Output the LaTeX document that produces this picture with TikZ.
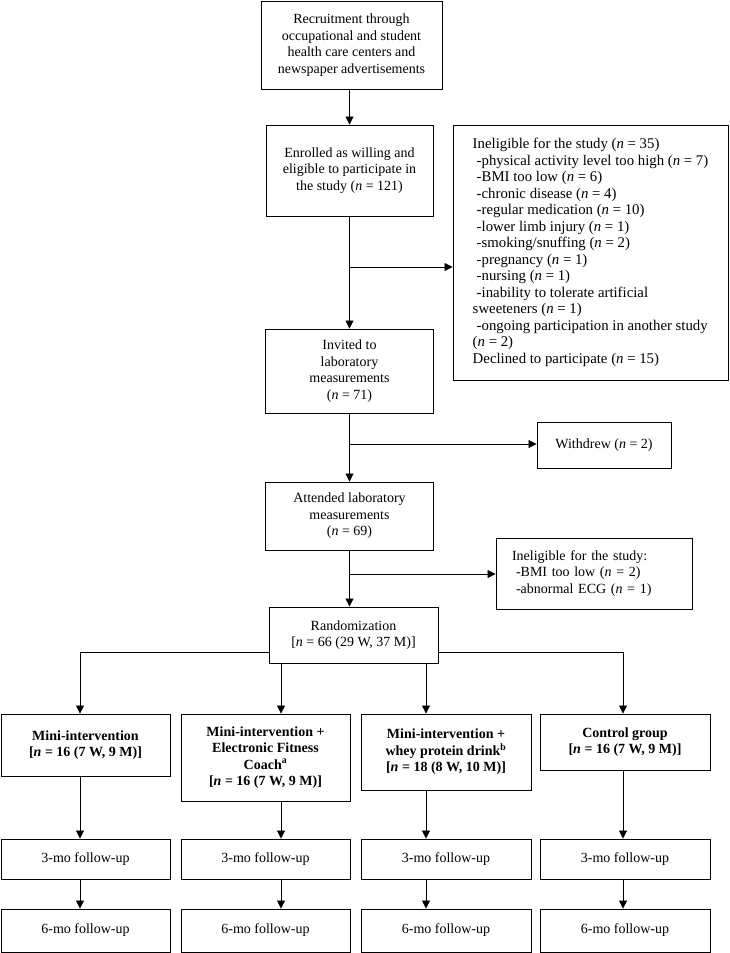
\documentclass[tikz,border=0pt]{standalone}
\usepackage{fontspec}
\setmainfont{Liberation Serif}
\usetikzlibrary{arrows.meta}

\begin{document}
\begin{tikzpicture}[x=1pt,y=-1pt,font=\fontsize{14}{16.5}\selectfont,
    >={Triangle[length=8pt,width=8pt]},line width=.8pt,
    box/.style={draw,line width=.9pt,align=center,inner sep=0pt},
    listbox/.style={draw,line width=.9pt,align=left,inner sep=0pt}]
  \useasboundingbox (0,0) rectangle (729,953);
  % main column
  \node[box,minimum width=181,minimum height=88] (recruit) at (351.5,45)
    {Recruitment through\\occupational and student\\health care centers and\\newspaper advertisements};
  \node[box,minimum width=167,minimum height=91] (enrol) at (349.5,170.5)
    {Enrolled as willing and\\eligible to participate in\\the study (\textit{n} = 121)};
  \node[box,minimum width=168,minimum height=84] (invited) at (349.5,371)
    {Invited to\\laboratory\\measurements\\(\textit{n} = 71)};
  \node[box,minimum width=168,minimum height=68] (attended) at (349.5,516)
    {Attended laboratory\\measurements\\(\textit{n} = 69)};
  \node[box,minimum width=169,minimum height=56] (rand) at (353.5,635)
    {Randomization\\{[}\textit{n} = 66 (29 W, 37 M)]};
  % exclusions
  \node[listbox,font=\fontsize{14.8}{16.5}\selectfont,minimum width=275,minimum height=255] (inelig1) at (590.5,252.5)
    {Ineligible for the study (\textit{n} = 35)\\
     \hspace*{4pt}-physical activity level too high (\textit{n} = 7)\\
     \hspace*{4pt}-BMI too low (\textit{n} = 6)\\
     \hspace*{4pt}-chronic disease (\textit{n} = 4)\\
     \hspace*{4pt}-regular medication (\textit{n} = 10)\\
     \hspace*{4pt}-lower limb injury (\textit{n} = 1)\\
     \hspace*{4pt}-smoking/snuffing (\textit{n} = 2)\\
     \hspace*{4pt}-pregnancy (\textit{n} = 1)\\
     \hspace*{4pt}-nursing (\textit{n} = 1)\\
     \hspace*{4pt}-inability to tolerate artificial\\
     sweeteners (\textit{n} = 1)\\
     \hspace*{4pt}-ongoing participation in another study\\
     (\textit{n} = 2)\\
     Declined to participate (\textit{n} = 15)};
  \node[box,minimum width=134,minimum height=46] (withdrew) at (604,445)
    {Withdrew (\textit{n} = 2)};
  \node[listbox,inner xsep=16pt,text width=164pt,minimum height=71] (inelig2) at (594,573.5)
    {Ineligible for the study:\\
     \hspace*{4pt}-BMI too low (\textit{n} = 2)\\
     \hspace*{4pt}-abnormal ECG (\textit{n} = 1)};
  % groups
  \node[box,font=\fontsize{14}{16.5}\selectfont\bfseries,minimum width=169,minimum height=62] (g1) at (85.5,745)
    {Mini-intervention\\{[}\textit{n} = 16 (7 W, 9 M)]};
  \node[box,font=\fontsize{14}{16.5}\selectfont\bfseries,minimum width=169,minimum height=87] (g2) at (265.5,757.5)
    {Mini-intervention +\\Electronic Fitness\\Coach\textsuperscript{a}\\{[}\textit{n} = 16 (7 W, 9 M)]};
  \node[box,font=\fontsize{14}{16.5}\selectfont\bfseries,minimum width=170,minimum height=76] (g3) at (446,752)
    {Mini-intervention +\\whey protein drink\textsuperscript{b}\\{[}\textit{n} = 18 (8 W, 10 M)]};
  \node[box,font=\fontsize{14}{16.5}\selectfont\bfseries,minimum width=170,minimum height=56] (g4) at (625,742)
    {Control group\\{[}\textit{n} = 16 (7 W, 9 M)]};
  % follow-ups
  \node[box,minimum width=169,minimum height=40] (f3a) at (85.5,859) {3-mo follow-up};
  \node[box,minimum width=169,minimum height=40] (f3b) at (265.5,859) {3-mo follow-up};
  \node[box,minimum width=170,minimum height=40] (f3c) at (446,859) {3-mo follow-up};
  \node[box,minimum width=170,minimum height=40] (f3d) at (625,859) {3-mo follow-up};
  \node[box,minimum width=169,minimum height=43] (f6a) at (85.5,930.5) {6-mo follow-up};
  \node[box,minimum width=169,minimum height=43] (f6b) at (265.5,930.5) {6-mo follow-up};
  \node[box,minimum width=170,minimum height=43] (f6c) at (446,930.5) {6-mo follow-up};
  \node[box,minimum width=170,minimum height=43] (f6d) at (625,930.5) {6-mo follow-up};

  % branch points and arrow columns
  \coordinate (b1) at (349.5,267);
  \coordinate (b2) at (349.5,444);
  \coordinate (b3) at (349.5,574);
  \coordinate (c1) at (80,652);
  \coordinate (c2) at (281,652);
  \coordinate (c3) at (426,652);
  \coordinate (c4) at (623,652);

  \draw[->] (recruit.south -| enrol.north) -- (enrol.north);
  \draw[->] (enrol) -- (invited);
  \draw[->] (invited) -- (attended);
  \draw[->] (attended.south) -- (attended.south |- rand.north);
  \draw[->] (b1) -- (b1 -| inelig1.west);
  \draw[->] (b2) -- (b2 -| withdrew.west);
  \draw[->] (b3) -- (b3 -| inelig2.west);

  \draw[->] (rand.west |- c1) -| (c1 |- g1.north);
  \draw[->] (rand.east |- c4) -| (c4 |- g4.north);
  \draw[->] (rand.south -| c2) -- (c2 |- g2.north);
  \draw[->] (rand.south -| c3) -- (c3 |- g3.north);

  \draw[->] (g1.south -| c1) -- (c1 |- f3a.north);
  \draw[->] (g2.south -| c2) -- (c2 |- f3b.north);
  \draw[->] (g3.south -| c3) -- (c3 |- f3c.north);
  \draw[->] (g4.south -| c4) -- (c4 |- f3d.north);
  \draw[->] (f3a.south -| c1) -- (c1 |- f6a.north);
  \draw[->] (f3b.south -| c2) -- (c2 |- f6b.north);
  \draw[->] (f3c.south -| c3) -- (c3 |- f6c.north);
  \draw[->] (f3d.south -| c4) -- (c4 |- f6d.north);
\end{tikzpicture}
\end{document}
